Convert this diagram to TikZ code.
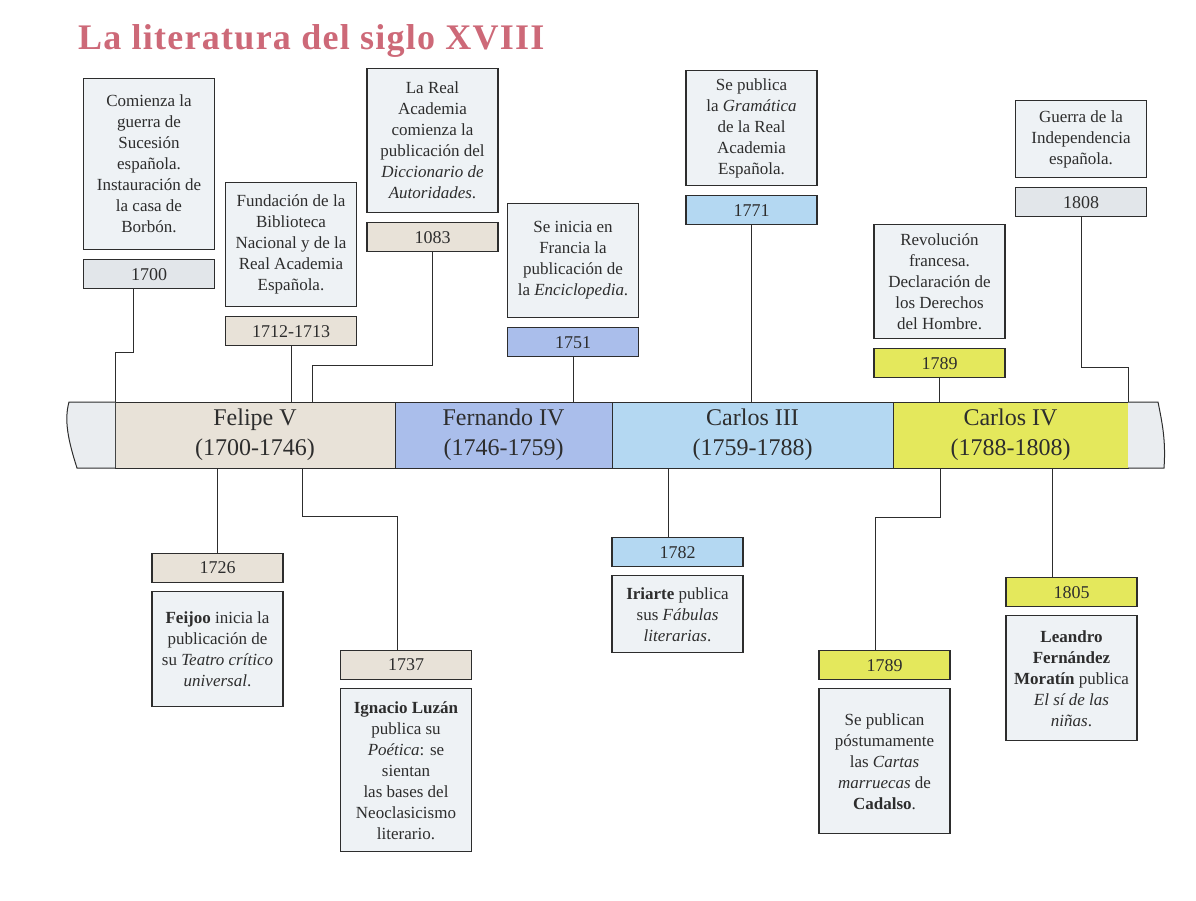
\documentclass[tikz,border=0pt]{standalone}
\usepackage{fontspec}
\setmainfont{Liberation Serif}
\usetikzlibrary{positioning}
\definecolor{titlered}{RGB}{205,105,120}
\definecolor{inkgrey}{RGB}{45,45,45}
\definecolor{notebg}{RGB}{238,242,245}
\definecolor{greybg}{RGB}{226,230,234}
\definecolor{endbg}{RGB}{234,237,240}
\definecolor{beigebg}{RGB}{232,226,216}
\definecolor{fernbg}{RGB}{170,190,235}
\definecolor{carlosbg}{RGB}{180,216,242}
\definecolor{yellowbg}{RGB}{228,232,92}

\begin{document}
\begin{tikzpicture}[
    x=1pt, y=-1pt,
    every node/.style={text=inkgrey},
    title/.style={
        font=\fontsize{36}{40}\selectfont\bfseries\addfontfeature{LetterSpace=3.5},
        text=titlered,
        inner sep=0pt
    },
    note/.style={
        draw=inkgrey,
        fill=notebg,
        line width=1.2pt,
        minimum width=131pt,
        align=center,
        inner sep=3pt,
        font=\fontsize{17}{21}\selectfont
    },
    datebox/.style={
        draw=inkgrey,
        line width=1.2pt,
        minimum width=131pt,
        minimum height=29pt,
        inner sep=0pt,
        font=\fontsize{18}{20}\selectfont
    },
    reign/.style={
        draw=inkgrey,
        line width=1pt,
        minimum height=66pt,
        inner sep=0pt,
        outer sep=0pt,
        align=center,
        font=\fontsize{24}{30}\selectfont
    },
    link/.style={
        draw=inkgrey,
        line width=0.9pt
    },
    ribbonend/.style={
        draw=inkgrey,
        line width=1pt,
        fill=endbg
    }
]
\useasboundingbox (0,0) rectangle (1196,900);
\node[title, anchor=base west] (title) at (78,49) {La literatura del siglo XVIII};

% reigns
\node[reign, fill=beigebg, minimum width=280pt] (felipe) at (255,435) {Felipe V\\(1700-1746)};
\node[reign, fill=fernbg, minimum width=217pt, right=0pt of felipe] (fernando) {Fernando IV\\(1746-1759)};
\node[reign, fill=carlosbg, minimum width=281pt, right=0pt of fernando] (carlosiii) {Carlos III\\(1759-1788)};
\node[reign, fill=yellowbg, minimum width=235pt, right=0pt of carlosiii] (carlosiv) {Carlos IV\\(1788-1808)};
\draw[ribbonend] (felipe.north west) -- (69,402) .. controls (64,420) and (68,440) .. (77,468) -- (felipe.south west);
\draw[ribbonend] (carlosiv.north east) -- (1158,402) .. controls (1162,422) and (1166,440) .. (1164,468) -- (carlosiv.south east);

% events above
\node[note, minimum height=171pt, anchor=north] (t1700) at (149,78) {Comienza la\\guerra de\\Sucesión\\española.\\Instauración de\\la casa de\\Borbón.};
\node[datebox, fill=greybg, below=9pt of t1700] (d1700) {1700};
\node[note, minimum height=124pt, anchor=north] (t1712) at (291,182) {Fundación de la\\Biblioteca\\Nacional y de la\\Real Academia\\Española.};
\node[datebox, fill=beigebg, below=9pt of t1712] (d1712) {1712-1713};
\node[note, minimum height=144pt, anchor=north] (t1083) at (432.5,68) {La Real\\Academia\\comienza la\\publicación del\\\textit{Diccionario de}\\\textit{Autoridades}.};
\node[datebox, fill=beigebg, below=9pt of t1083] (d1083) {1083};
\node[note, minimum height=114pt, anchor=north] (t1751) at (573,203) {Se inicia en\\Francia la\\publicación de\\la \textit{Enciclopedia}.};
\node[datebox, fill=fernbg, below=9pt of t1751] (d1751) {1751};
\node[note, minimum height=115pt, anchor=north] (t1771) at (751.5,70) {Se publica\\la \textit{Gramática}\\de la Real\\Academia\\Española.};
\node[datebox, fill=carlosbg, below=9pt of t1771] (d1771) {1771};
\node[note, minimum height=114pt, anchor=north] (t1789) at (939.5,224) {Revolución\\francesa.\\Declaración de\\los Derechos\\del Hombre.};
\node[datebox, fill=yellowbg, below=9pt of t1789] (d1789) {1789};
\node[note, minimum height=77pt, anchor=north] (t1808) at (1081,100) {Guerra de la\\Independencia\\española.};
\node[datebox, fill=greybg, below=9pt of t1808] (d1808) {1808};

% events below
\node[datebox, fill=beigebg, anchor=north] (d1726) at (217.5,553) {1726};
\node[note, minimum height=115pt, below=8pt of d1726] (t1726) {\textbf{Feijoo} inicia la\\publicación de\\su \textit{Teatro crítico}\\\textit{universal}.};
\node[datebox, fill=beigebg, anchor=north] (d1737) at (406,650) {1737};
\node[note, minimum height=163pt, below=8pt of d1737] (t1737) {\textbf{Ignacio Luzán}\\publica su\\\textit{Poética}: se\\sientan\\las bases del\\Neoclasicismo\\literario.};
\node[datebox, fill=carlosbg, anchor=north] (d1782) at (677.5,537) {1782};
\node[note, minimum height=77pt, below=8pt of d1782] (t1782) {\textbf{Iriarte} publica\\sus \textit{Fábulas}\\\textit{literarias}.};
\node[datebox, fill=yellowbg, anchor=north] (d1789b) at (884.5,650) {1789};
\node[note, minimum height=145pt, below=8pt of d1789b] (t1789b) {Se publican\\póstumamente\\las \textit{Cartas}\\\textit{marruecas} de\\\textbf{Cadalso}.};
\node[datebox, fill=yellowbg, anchor=north] (d1805) at (1071.5,577) {1805};
\node[note, minimum height=125pt, below=8pt of d1805] (t1805) {\textbf{Leandro}\\\textbf{Fernández}\\\textbf{Moratín} publica\\\textit{El sí de las}\\\textit{niñas}.};

% connectors
\coordinate (k1700) at (115,352);
\coordinate (k1083) at (312,365);
\coordinate (k1808) at (1128,367);
\coordinate (k1737) at (302,516);
\coordinate (k1789) at (940,517);
\draw[link] ([xshift=-16pt]d1700.south) |- (k1700) -- (felipe.north west);
\draw[link] (d1712.south) -- (d1712.south |- felipe.north);
\draw[link] (d1083.south) |- (k1083) -- (k1083 |- felipe.north);
\draw[link] (d1751.south) -- (d1751.south |- fernando.north);
\draw[link] (d1771.south) -- (d1771.south |- carlosiii.north);
\draw[link] (d1789.south) -- (d1789.south |- carlosiv.north);
\draw[link] (d1808.south) |- (k1808) -- (carlosiv.north east);
\draw[link] (d1726.north |- felipe.south) -- (d1726.north);
\draw[link] (k1737 |- felipe.south) -- (k1737) -| ([xshift=-9pt]d1737.north);
\draw[link] ([xshift=-9.5pt]d1782.north |- carlosiii.south) -- ([xshift=-9.5pt]d1782.north);
\draw[link] (k1789 |- carlosiv.south) -- (k1789) -| ([xshift=-9.5pt]d1789b.north);
\draw[link] ([xshift=-19.5pt]d1805.north |- carlosiv.south) -- ([xshift=-19.5pt]d1805.north);
\end{tikzpicture}
\end{document}
